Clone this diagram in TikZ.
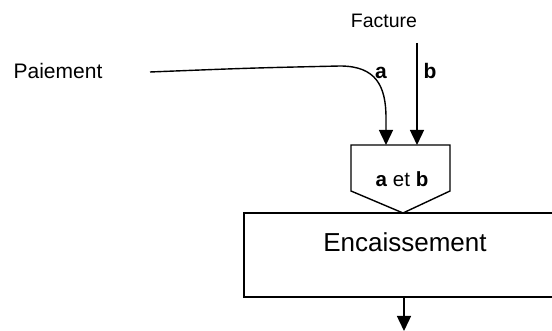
\documentclass[tikz,border=0pt]{standalone}
\usepackage{fontspec}
\setmainfont{Liberation Sans}
\usetikzlibrary{arrows.meta}
\begin{document}
\begin{tikzpicture}[x=1pt,y=-1pt, line width=1.4pt,
  arr/.style={-{Triangle[length=15pt,width=14pt]}},
  txt/.style={inner sep=0pt},
  box/.style={draw, line width=1.4pt, minimum width=318pt, minimum height=84pt, inner sep=0pt}]
\useasboundingbox (0,0) rectangle (552,331);
\clip (0,0) rectangle (552,331);
% texts
\node[txt, font=\fontsize{19.5}{23}\selectfont] (facture) at (384,21) {Facture};
\node[txt, font=\fontsize{21}{25}\selectfont] (paiement) at (58,71) {Paiement};
\node[txt, font=\fontsize{21}{25}\selectfont\bfseries] (la) at (381,73) {a};
\node[txt, font=\fontsize{21}{25}\selectfont\bfseries] (lb) at (430,71) {b};
% pentagon
\coordinate (p1) at (351,145);
\coordinate (p2) at (450,145);
\coordinate (p3) at (450,191);
\coordinate (p4) at (403,213);
\coordinate (p5) at (351,191);
\draw[line join=miter] (p1) -- (p2) -- (p3) -- (p4) -- (p5) -- cycle;
\node[txt, font=\fontsize{20.5}{25}\selectfont] (et) at (402,179) {\textbf{a} et \textbf{b}};
\coordinate (ina) at (386,145);
\coordinate (inb) at (417,145);
% rectangle
\node[box] (encbox) at (403,255) {};
\node[txt, font=\fontsize{26}{30}\selectfont] (enc) at (405,242) {Encaissement};
% connectors
\coordinate (sa) at (150,72);
\coordinate (sb) at (417,43);
\coordinate (out) at (404,331);
\draw[arr] (sa) .. controls (250,68) .. (340,66) .. controls (376,66) and (386,86) .. (386,118) -- (ina);
\draw[arr] (sb) -- (inb);
\draw[arr] (encbox.south -| out) -- (out);
\end{tikzpicture}
\end{document}
